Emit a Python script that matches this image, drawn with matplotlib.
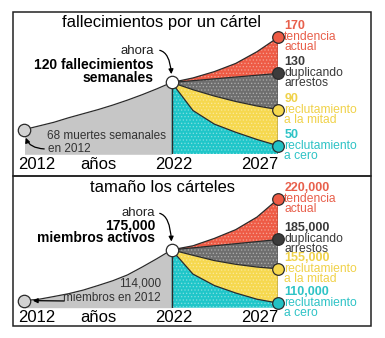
import numpy as np
import matplotlib
matplotlib.use("Agg")
import matplotlib.pyplot as plt
from matplotlib.patches import Rectangle

plt.rcParams['font.family'] = ['Liberation Sans', 'DejaVu Sans']
plt.rcParams['hatch.linewidth'] = 0.6

# años
anios_hist = [2012, 2013, 2014, 2015, 2016, 2017, 2018, 2019, 2020, 2021, 2022]
anios_proy = [2022, 2023, 2024, 2025, 2026, 2027]

# fallecimientos semanales
muertes_hist = [68, 72, 76, 81, 85.5, 90, 95, 100.5, 106.5, 113, 120]
muertes_tendencia = [120, 125, 132, 141, 154, 170]
muertes_duplicando = [120, 122, 124, 126, 128, 130]
muertes_mitad = [120, 112, 105, 99, 94, 90]
muertes_cero = [120, 89, 74, 65, 57, 50]

# miembros activos
miembros_hist = [114000, 116000, 120000, 124000, 129000, 135000, 141000, 148000, 157000, 166000, 175000]
miembros_tendencia = [175000, 179000, 186000, 194000, 205000, 220000]
miembros_duplicando = [175000, 177000, 179000, 181000, 183000, 185000]
miembros_mitad = [175000, 169500, 164000, 160000, 157000, 155000]
miembros_cero = [175000, 149000, 135000, 125000, 116000, 110000]

escenarios = [["tendencia", "actual"], ["duplicando", "arrestos"],
              ["reclutamiento", "a la mitad"], ["reclutamiento", "a cero"]]

ROJO = "#EE5B45"
GRIS_OSC = "#6E6E6E"
AMARILLO = "#F6D84E"
TURQUESA = "#1FC6C9"
GRIS_CLARO = "#C6C6C6"
LINEA = "#2B2B2B"
colores = [ROJO, GRIS_OSC, AMARILLO, TURQUESA]
puntos = [ROJO, "#3C3C3C", AMARILLO, "#22C1C4"]
textos = ["#E8604C", "#3A3A3A", "#F0D24A", "#2EC3C6"]

W, H = 385, 338
fig = plt.figure(figsize=(W / 100, H / 100), dpi=100)


def px(x, y):
    return x / W, 1 - y / H


# 2012-2022 va comprimido respecto a 2022-2027
def fwd_x(x):
    x = np.asarray(x, float)
    return np.where(x <= 2022, x - 2012, 10 + (x - 2022) * 1.45)


def inv_x(u):
    u = np.asarray(u, float)
    return np.where(u <= 10, u + 2012, 2022 + (u - 10) / 1.45)


def cuadrado(v):
    return np.asarray(v, float) ** 2


def raiz(v):
    return np.sqrt(np.maximum(v, 0))


def panel(rect, ylim, hist, tend, dupl, mitad, cero, fmt, yscale=None):
    ax = fig.add_axes(rect)
    ax.set_xscale('function', functions=(fwd_x, inv_x))
    if yscale:
        ax.set_yscale('function', functions=yscale)
    ax.set_xlim(2012, 2027)
    ax.set_ylim(*ylim)
    base = ylim[0]
    ax.axis('off')

    ax.fill_between(anios_hist, hist, base, color=GRIS_CLARO, lw=0)
    ax.plot(anios_hist, hist, color=LINEA, lw=0.9)

    capas = [(tend, dupl), (dupl, mitad), (mitad, cero), (cero, [base] * len(cero))]
    for (arriba, abajo), c in zip(capas, colores):
        ax.fill_between(anios_proy, arriba, abajo, facecolor=c, edgecolor=(1, 1, 1, 0.35),
                        hatch='.....', lw=0)
    for serie in (tend, dupl, mitad, cero):
        ax.plot(anios_proy, serie, color=LINEA, lw=0.9)
    ax.vlines([2022], base, hist[-1], color=LINEA, lw=1)
    ax.vlines([2027], base, tend[-1], color=LINEA, lw=1)

    ax.scatter([2012], [hist[0]], s=80, color="#D2D2D2", edgecolor=LINEA, lw=0.9, zorder=5, clip_on=False)
    ax.scatter([2022], [hist[-1]], s=80, color="white", edgecolor=LINEA, lw=0.9, zorder=5, clip_on=False)

    # etiquetas de cada escenario en 2027
    finales = [tend[-1], dupl[-1], mitad[-1], cero[-1]]
    for v, c, tc, nombre in zip(finales, puntos, textos, escenarios):
        ax.scatter([2027], [v], s=70, color=c, edgecolor=LINEA, lw=0.9, zorder=5, clip_on=False)
        ax.annotate(fmt(v), (2027, v), xytext=(6, 11), textcoords='offset pixels',
                    ha='left', va='center', fontsize=9, fontweight='bold', color=tc)
        ax.annotate(nombre[0], (2027, v), xytext=(6, 0), textcoords='offset pixels',
                    ha='left', va='center', fontsize=8.7, color=tc)
        ax.annotate(nombre[1], (2027, v), xytext=(6, -10), textcoords='offset pixels',
                    ha='left', va='center', fontsize=8.7, color=tc)

    eje = ax.get_xaxis_transform()
    for anio, txt, dx, ha in [(2012, "2012", -6, 'left'), (2017, "años", 0, 'center'),
                              (2022, "2022", 2, 'center'), (2027, "2027", 0, 'right')]:
        ax.annotate(txt, (anio, 0), xycoords=eje, xytext=(dx, -10), textcoords='offset pixels',
                    ha=ha, va='center', fontsize=12, color='black')
    return ax


r1 = [*px(24.5, 154.3), (278.3 - 24.5) / W, 124.3 / H]
r2 = [*px(24.5, 307.7), (278.3 - 24.5) / W, 117.7 / H]

ax_m = panel(r1, (40.6, 178), muertes_hist, muertes_tendencia, muertes_duplicando,
             muertes_mitad, muertes_cero, lambda v: f"{v:g}")
ax_p = panel(r2, (102500, 226800), miembros_hist, miembros_tendencia, miembros_duplicando,
             miembros_mitad, miembros_cero, lambda v: f"{v:,}", yscale=(cuadrado, raiz))

# títulos y notas
fig.text(*px(162, 22), "fallecimientos por un cártel", ha='center', va='center', fontsize=12)
fig.text(*px(162, 188), "tamaño los cárteles", ha='center', va='center', fontsize=12)

fig.text(*px(154, 51), "ahora", ha='right', va='center', fontsize=9.5, color="#222222")
fig.text(*px(154, 65), "120 fallecimientos", ha='right', va='center', fontsize=10, fontweight='bold')
fig.text(*px(154, 78), "semanales", ha='right', va='center', fontsize=10, fontweight='bold')
fig.text(*px(47, 136), "68 muertes semanales", ha='left', va='center', fontsize=8.5, color="#333333")
fig.text(*px(48, 149), "en 2012", ha='left', va='center', fontsize=8.5, color="#333333")

fig.text(*px(155, 213), "ahora", ha='right', va='center', fontsize=9.5, color="#222222")
fig.text(*px(155, 226), "175,000", ha='right', va='center', fontsize=10, fontweight='bold')
fig.text(*px(155, 238), "miembros activos", ha='right', va='center', fontsize=10, fontweight='bold')
fig.text(*px(161, 284), "114,000", ha='right', va='center', fontsize=8.5, color="#333333")
fig.text(*px(161, 298), "miembros en 2012", ha='right', va='center', fontsize=8.5, color="#333333")

flecha = dict(arrowstyle='-|>', color='black', lw=0.9, mutation_scale=7, shrinkB=6)
curva = 'angle3,angleA=0,angleB=90'
ax_m.annotate("", (2022, muertes_hist[-1]), xytext=px(157, 50), textcoords='figure fraction',
              arrowprops=dict(flecha, connectionstyle=curva))
ax_m.annotate("", (2012, muertes_hist[0]), xytext=px(47, 149), textcoords='figure fraction',
              arrowprops=dict(flecha, connectionstyle=curva))
ax_p.annotate("", (2022, miembros_hist[-1]), xytext=px(157, 213), textcoords='figure fraction',
              arrowprops=dict(flecha, connectionstyle=curva))
ax_p.annotate("", (2012, miembros_hist[0]), xytext=px(67, 301), textcoords='figure fraction',
              arrowprops=flecha)

# marcos de los dos paneles
for y0, y1 in [(12, 176), (176, 326)]:
    x0, yb = px(13, y1)
    fig.add_artist(Rectangle((x0, yb), (371 - 13) / W, (y1 - y0) / H, transform=fig.transFigure,
                             fill=False, lw=1.1, edgecolor='#222222'))

fig.savefig("out.png", dpi=100)
